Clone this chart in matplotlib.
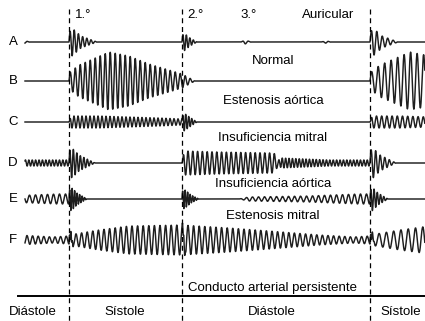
import numpy as np
import matplotlib.pyplot as plt

plt.rcParams['font.family'] = ['Liberation Sans', 'DejaVu Sans']

# x of the 1st sound in each cycle (one before the view, two in it), cycle length
s1_x = [-232, 69, 370]
s2_x = 182
period_scale = [1.0, 1.0, 1.3]   # the last cycle is drawn a little wider

row_names = ['A', 'B', 'C', 'D', 'E', 'F']
row_y = [42, 81, 122, 163, 199, 240]

# segments: (knot times after 1st sound, amplitude at knots, wave period)
trace_A = [([0, 3, 12, 28], [9, 14, 6, 0], 4.2),
           ([113, 115, 121, 128], [6, 9, 4, 0], 3.5),
           ([172, 176, 182], [0, 2, 0], 6.0),
           ([252, 257, 262], [0, 1.2, 0], 6.0)]
trace_B = [([0, 10, 40, 60, 80, 100, 113, 126], [8, 16, 29, 25, 17, 11, 7, 0], 5.0)]
trace_C = [([0, 2, 30, 60, 90, 113], [0, 6, 6, 5, 4, 3], 4.0),
           ([113, 115, 122, 128], [5, 9, 4, 0], 3.0)]
trace_D = [([0, 3, 10, 26], [12, 15, 8, 0], 3.5),
           ([113, 115, 150, 205, 211], [0, 12, 11, 10, 0], 4.8),
           ([209, 212, 260, 301], [0, 5, 3, 3], 3.4)]
trace_E = [([0, 2, 8, 18], [8, 12, 6, 0], 2.5),
           ([113, 115, 122, 130], [7, 10, 4, 0], 2.5),
           ([170, 180, 240, 290, 301], [0, 2, 3, 5, 5], 6.0)]
trace_F = [([0, 30, 60, 113, 160, 200, 250, 285, 301], [5, 10, 14, 15, 12, 9, 5, 3, 4], 5.6),
           ([0, 1, 5], [0, 5, 0], 1.5),
           ([113, 114, 118], [0, 5, 0], 1.5)]
traces = [trace_A, trace_B, trace_C, trace_D, trace_E, trace_F]

sound_labels = ['1.°', '2.°', '3.°', 'Auricular']
sound_label_x = [75, 187, 240, 302]
case_labels = ['Normal', 'Estenosis aórtica', 'Insuficiencia mitral',
               'Insuficiencia aórtica', 'Estenosis mitral', 'Conducto arterial persistente']
case_label_y = [61, 101, 138, 184, 216, 288]
phase_labels = ['Diástole', 'Sístole', 'Diástole', 'Sístole']
phase_label_x = [33, 125, 272, 401]


def trace_signal(x, segments):
    y = np.zeros_like(x)
    for i, start in enumerate(s1_x):
        end = s1_x[i + 1] if i + 1 < len(s1_x) else 1e9
        mask = (x >= start) & (x < end)
        t = x[mask] - start
        for knots, amps, period in segments:
            env = np.interp(t, knots, amps, left=0, right=0)
            p = period * period_scale[i]
            y[mask] += env * np.sin(2 * np.pi * (t - knots[0]) / p)
    return y


fig = plt.figure(figsize=(4.25, 3.21), dpi=100)
ax = fig.add_axes([0, 0, 1, 1])
ax.set_xlim(0, 425)
ax.set_ylim(321, 0)
ax.axis('off')

x = np.arange(25, 425, 0.2)
for name, base, segs in zip(row_names, row_y, traces):
    ax.plot(x, base - trace_signal(x, segs), color='#1e1e1e', lw=1.05)
    ax.text(13, base, name, fontsize=9.5, ha='center', va='center', color='black')

for xd in [s1_x[1], s2_x, s1_x[2]]:
    ax.plot([xd, xd], [9, 321], color='black', lw=0.9, dashes=(4, 3))

for lab, xl in zip(sound_labels, sound_label_x):
    ax.text(xl, 15, lab, fontsize=9.5, ha='left', va='center', color='black')
for lab, yl in zip(case_labels, case_label_y):
    ax.text(273, yl, lab, fontsize=9.5, ha='center', va='center', color='black')

ax.plot([18, 425], [296, 296], color='black', lw=1.4)
for lab, xl in zip(phase_labels, phase_label_x):
    ax.text(xl, 312, lab, fontsize=9.5, ha='center', va='center', color='black')

fig.savefig('out.png', dpi=100)
